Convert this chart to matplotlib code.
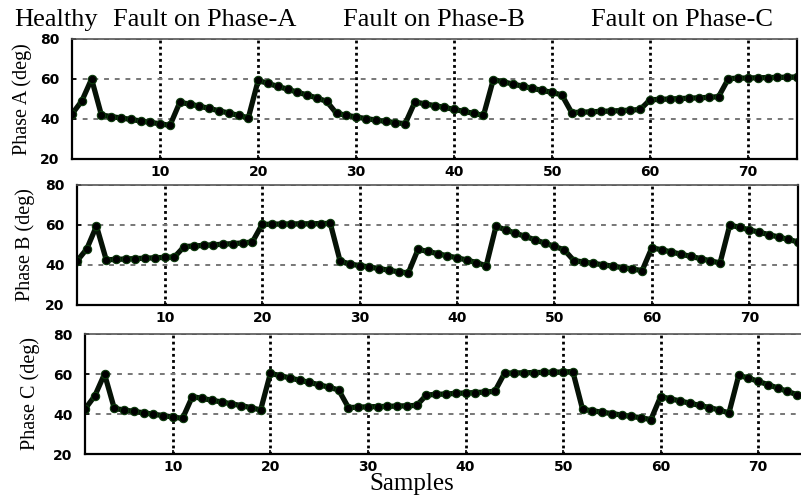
import matplotlib
matplotlib.use("Agg")
import matplotlib.pyplot as plt
import numpy as np

samples = list(range(1, 76))

phase_a = [42.5, 49.0, 60.0,
           42.0, 41.2, 40.5, 39.8, 39.0, 38.3, 37.6, 36.8,
           48.3, 47.5, 46.4, 45.3, 44.1, 43.0, 41.8, 40.6,
           59.3, 57.8, 56.3, 54.9, 53.4, 52.0, 50.5, 48.8,
           42.8, 41.9, 41.0, 40.2, 39.5, 38.8, 38.2, 37.6,
           48.5, 47.6, 46.7, 45.8, 44.8, 43.8, 42.8, 41.8,
           59.7, 58.6, 57.5, 56.4, 55.3, 54.3, 53.3, 52.0,
           43.2, 43.4, 43.6, 43.8, 44.0, 44.2, 44.4, 44.8,
           49.6, 49.8, 50.0, 50.2, 50.4, 50.6, 50.8, 51.2,
           60.2, 60.4, 60.5, 60.6, 60.7, 60.8, 60.9, 61.0]

phase_b = [42.0, 48.0, 59.5,
           42.6, 42.8, 43.0, 43.2, 43.4, 43.6, 43.8, 44.0,
           49.2, 49.5, 49.8, 50.1, 50.4, 50.7, 51.0, 51.5,
           60.3, 60.4, 60.5, 60.5, 60.6, 60.6, 60.7, 60.8,
           42.0, 40.5, 39.7, 39.0, 38.2, 37.4, 36.6, 36.0,
           47.8, 46.8, 45.7, 44.6, 43.6, 42.5, 41.2, 39.6,
           59.3, 57.6, 55.9, 54.3, 52.6, 51.0, 49.3, 47.6,
           42.2, 41.5, 40.8, 40.1, 39.4, 38.7, 38.0, 37.2,
           48.6, 47.6, 46.5, 45.4, 44.3, 43.2, 42.1, 41.0,
           60.0, 58.8, 57.6, 56.4, 55.2, 54.0, 52.8, 51.5]

phase_c = [42.5, 49.0, 60.0,
           42.8, 42.0, 41.3, 40.6, 39.9, 39.2, 38.5, 37.8,
           48.7, 47.8, 46.9, 46.0, 45.1, 44.2, 43.2, 42.0,
           60.3, 59.2, 58.0, 56.9, 55.8, 54.6, 53.4, 52.0,
           43.2, 43.4, 43.6, 43.7, 43.8, 44.0, 44.1, 44.3,
           49.5, 49.8, 50.0, 50.3, 50.5, 50.7, 51.0, 51.3,
           60.4, 60.5, 60.6, 60.7, 60.8, 60.9, 61.0, 61.2,
           42.3, 41.6, 40.9, 40.2, 39.5, 38.8, 38.1, 37.2,
           48.7, 47.6, 46.5, 45.4, 44.3, 43.2, 42.0, 40.5,
           59.3, 58.0, 56.3, 54.7, 53.0, 51.3, 49.6, 48.0]

series = [phase_a, phase_b, phase_c]
ylabels = ["Phase A (deg)", "Phase B (deg)", "Phase C (deg)"]
xticks = [10, 20, 30, 40, 50, 60, 70]
yticks = [20, 40, 60, 80]
section_titles = ["Healthy", "Fault on Phase-A", "Fault on Phase-B", "Fault on Phase-C"]

W, H = 801, 498
fig = plt.figure(figsize=(W / 100, H / 100), dpi=100)

# axes rectangles in pixels: left, top, right, bottom
rects = [(72, 39, 797, 159), (77, 185, 798, 305), (85, 334, 807, 454)]
ylab_x = [22, 25, 30]

serif = "Liberation Serif"
for i, (vals, lab, r) in enumerate(zip(series, ylabels, rects)):
    l, t, rr, b = r
    ax = fig.add_axes([l / W, 1 - b / H, (rr - l) / W, (b - t) / H])
    ax.plot(samples, vals, color="#061206", lw=3.8, marker="o", ms=6,
            markerfacecolor="#000000", markeredgecolor="#0b3a0b", mew=0.8,
            solid_joinstyle="round")
    ax.set_xlim(1, 75)
    ax.set_ylim(20, 80)
    ax.set_xticks(xticks)
    ax.set_yticks(yticks)
    ax.xaxis.grid(True, linestyle=(0, (1, 1.2)), color="black", lw=2.0)
    ax.yaxis.grid(True, linestyle=(0, (2.5, 3)), color="#777777", lw=1.4)
    ax.set_axisbelow(True)
    for s in ax.spines.values():
        s.set_linewidth(1.6)
        s.set_color("black")
    ax.spines["top"].set_color("#555555")
    ax.spines["top"].set_linewidth(1.2)
    ax.tick_params(direction="in", length=3, width=1.2, labelsize=10)
    ax.tick_params(axis="x", pad=4)
    ax.tick_params(axis="y", pad=9)
    for tl in ax.get_xticklabels() + ax.get_yticklabels():
        tl.set_fontweight("bold")
        tl.set_fontfamily("DejaVu Sans")
    fig.text(ylab_x[i] / W, 1 - ((t + b) / 2) / H, lab, rotation=90,
             ha="center", va="center", fontsize=14.5, family=serif)

# section titles
title_x = [56, 205, 434, 682]
for tx, txt in zip(title_x, section_titles):
    fig.text(tx / W, 1 - 20 / H, txt, ha="center", va="center",
             fontsize=19, family=serif)

fig.text(412 / W, 1 - 484 / H, "Samples", ha="center", va="center",
         fontsize=18, family=serif)

fig.savefig("out.png", dpi=100)
